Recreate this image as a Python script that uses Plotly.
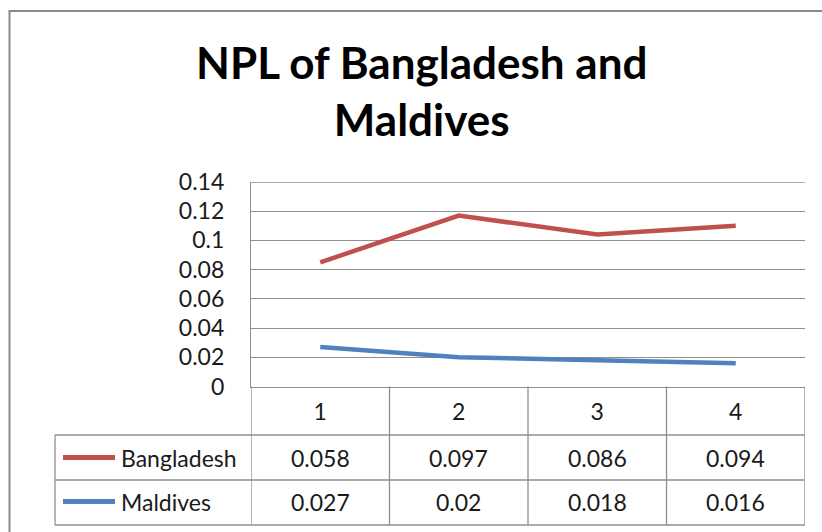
import plotly.graph_objects as go

# Data
periods = [1, 2, 3, 4]
bangladesh = [0.058, 0.097, 0.086, 0.094]
maldives = [0.027, 0.02, 0.018, 0.016]
y_ticks = [0, 0.02, 0.04, 0.06, 0.08, 0.1, 0.12, 0.14]
y_tick_labels = ["0", "0.02", "0.04", "0.06", "0.08", "0.1", "0.12", "0.14"]

W, H = 822, 532
RED = "#C0504D"
BLUE = "#4F81BD"
GRID = "#8f8f8f"
TEXT = "#1a1a1a"
FONT = "Lato"


def px(x):
    return x / W


def py(y):
    return 1 - y / H


fig = go.Figure()

# Stacked line chart: Maldives at the bottom, Bangladesh stacked on top
fig.add_trace(go.Scatter(
    x=periods, y=maldives, name="Maldives", stackgroup="npl", fill="none",
    mode="lines", line=dict(color=BLUE, width=4.5), showlegend=False,
))
fig.add_trace(go.Scatter(
    x=periods, y=bangladesh, name="Bangladesh", stackgroup="npl", fill="none",
    mode="lines", line=dict(color=RED, width=4.5), showlegend=False,
))

shapes = []
line_style = dict(color=GRID, width=1.3)

# outer chart frame
shapes.append(dict(type="rect", xref="paper", yref="paper",
                   x0=px(9.5), x1=px(840), y0=py(11), y1=py(560),
                   line=dict(color="#8a8a8a", width=2)))

# top gridline at the axis maximum
shapes.append(dict(type="line", xref="x domain", yref="y",
                   x0=0, x1=1, y0=y_ticks[-1], y1=y_ticks[-1],
                   line=line_style, layer="below"))

# data table grid: horizontal rules
for yy in [435, 480, 525]:
    shapes.append(dict(type="line", xref="paper", yref="paper",
                       x0=px(55), x1=px(805), y0=py(yy), y1=py(yy),
                       line=line_style))
# vertical rules at category boundaries
for b in [0.5, 1.5, 2.5, 3.5, 4.5]:
    shapes.append(dict(type="line", xref="x", yref="paper",
                       x0=b, x1=b, y0=py(386.5), y1=py(525),
                       line=line_style))
# legend column left edge
shapes.append(dict(type="line", xref="paper", yref="paper",
                   x0=px(55), x1=px(55), y0=py(435), y1=py(525),
                   line=line_style))

# legend keys and values inside the table
row_y = [457.5, 501.5]
series = [("Bangladesh", RED, bangladesh), ("Maldives", BLUE, maldives)]
annotations = []
for (name, color, vals), ry in zip(series, row_y):
    shapes.append(dict(type="line", xref="paper", yref="paper",
                       x0=px(63), x1=px(115), y0=py(ry), y1=py(ry),
                       line=dict(color=color, width=5)))
    annotations.append(dict(xref="paper", yref="paper", x=px(119), y=py(ry),
                            text=name, showarrow=False, xanchor="left",
                            yanchor="middle",
                            font=dict(family=FONT, size=23, color=TEXT)))
    for p, v in zip(periods, vals):
        annotations.append(dict(xref="x", yref="paper", x=p, y=py(ry),
                                text=str(v), showarrow=False, xanchor="center",
                                yanchor="middle",
                                font=dict(family=FONT, size=23, color=TEXT)))

# chart title
annotations.append(dict(xref="paper", yref="paper", x=px(421.5), y=py(91),
                        text="<b>NPL of Bangladesh and</b><br><b>Maldives</b>",
                        showarrow=False, xanchor="center", yanchor="middle",
                        font=dict(family=FONT, size=44, color="#000000")))

fig.update_layout(
    width=W, height=H,
    margin=dict(l=0, r=0, t=0, b=0, autoexpand=False),
    paper_bgcolor="white", plot_bgcolor="white",
    shapes=shapes, annotations=annotations,
    xaxis=dict(
        domain=[px(251), px(805)], range=[0.5, 4.5], automargin=False,
        tickmode="array", tickvals=periods, ticktext=[str(p) for p in periods],
        showgrid=False, zeroline=False, showline=True, linecolor=GRID,
        linewidth=1.3, ticks="", ticklabelstandoff=5,
        tickfont=dict(family=FONT, size=23, color=TEXT),
    ),
    yaxis=dict(
        domain=[py(386.5), py(182)], range=[0, 0.14], automargin=False,
        tickmode="array", tickvals=y_ticks, ticktext=y_tick_labels,
        showgrid=True, gridcolor=GRID, gridwidth=1.3, zeroline=False,
        showline=True, linecolor=GRID, linewidth=1.3, ticks="",
        ticklabelstandoff=21,
        tickfont=dict(family=FONT, size=23, color=TEXT),
    ),
)

fig.write_html("out.html")
